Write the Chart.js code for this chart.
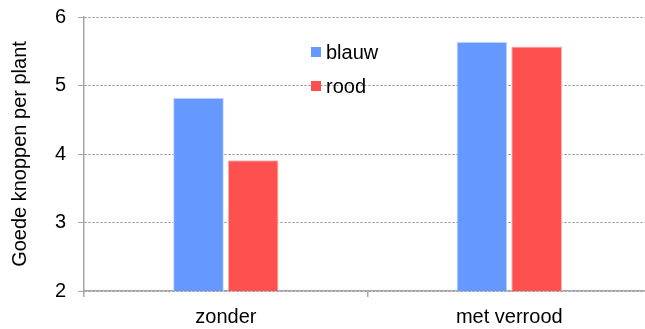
<!DOCTYPE html>
<html>
<head>
<meta charset="utf-8">
<script src="https://cdn.jsdelivr.net/npm/chart.js@4/dist/chart.umd.min.js"></script>
<style>
  html, body { margin: 0; padding: 0; background: #fff; overflow: hidden; }
  #wrap { position: relative; width: 657px; height: 344px; margin-top: -7px; }
</style>
</head>
<body>
<div id="wrap"><canvas id="c"></canvas></div>
<script>
// Goede knoppen per plant, per behandeling en lichtkleur
const categories = ['zonder', 'met verrood'];
const seriesNames = ['blauw', 'rood'];
const blauw = [4.82, 5.64];
const rood = [3.91, 5.57];
const yTicks = [2, 3, 4, 5, 6];
const yTitle = 'Goede knoppen per plant';

const FONT = "'Liberation Sans', Arial, sans-serif";
const AXIS = '#a6a6a6';

// Legend drawn inside the plot area, left of the second group
const insideLegend = {
  id: 'insideLegend',
  afterDraw(chart, args, opts) {
    const ctx = chart.ctx;
    ctx.save();
    ctx.font = '20px ' + FONT;
    ctx.textBaseline = 'middle';
    ctx.textAlign = 'left';
    chart.data.datasets.forEach((ds, i) => {
      const y = opts.y + i * opts.spacing;
      ctx.fillStyle = ds.backgroundColor;
      ctx.fillRect(opts.x, y - 5, 10, 10);
      ctx.fillStyle = '#000';
      ctx.fillText(ds.label, opts.x + 15, y + 1);
    });
    ctx.restore();
  }
};

new Chart(document.getElementById('c'), {
  type: 'bar',
  data: {
    labels: categories,
    datasets: [
      { label: seriesNames[0], data: blauw, backgroundColor: '#6699ff', borderColor: '#c9d9ff', borderWidth: 1 },
      { label: seriesNames[1], data: rood, backgroundColor: '#ff5050', borderColor: '#ffb3b3', borderWidth: 1 }
    ]
  },
  options: {
    responsive: true,
    maintainAspectRatio: false,
    animation: false,
    datasets: { bar: { categoryPercentage: 0.386, barPercentage: 0.927 } },
    layout: { padding: { top: 0, right: 6, left: 8, bottom: 0 } },
    plugins: {
      legend: { display: false },
      tooltip: { enabled: false },
      insideLegend: { x: 311, y: 59, spacing: 34 }
    },
    scales: {
      x: {
        offset: true,
        grid: { offset: true, drawOnChartArea: false, color: AXIS, tickLength: 6, lineWidth: 1.5 },
        border: { color: AXIS, width: 1.5 },
        ticks: { color: '#000', font: { family: FONT, size: 20 }, padding: 8, maxRotation: 0 }
      },
      y: {
        min: 2,
        max: 6,
        afterBuildTicks(scale) { scale.ticks = yTicks.map(v => ({ value: v })); },
        grid: {
          color: '#8c8c8c', lineWidth: 1,
          tickColor: AXIS, tickBorderDash: [0, 0], tickLength: 6, drawTicks: true
        },
        border: { color: AXIS, width: 1.5, dash: [2, 2] },
        ticks: { color: '#000', font: { family: FONT, size: 20 }, padding: 12 },
        title: { display: true, text: yTitle, color: '#000', font: { family: FONT, size: 20 }, padding: { top: 0, bottom: 11 } }
      }
    }
  },
  plugins: [insideLegend]
});
</script>
</body>
</html>
